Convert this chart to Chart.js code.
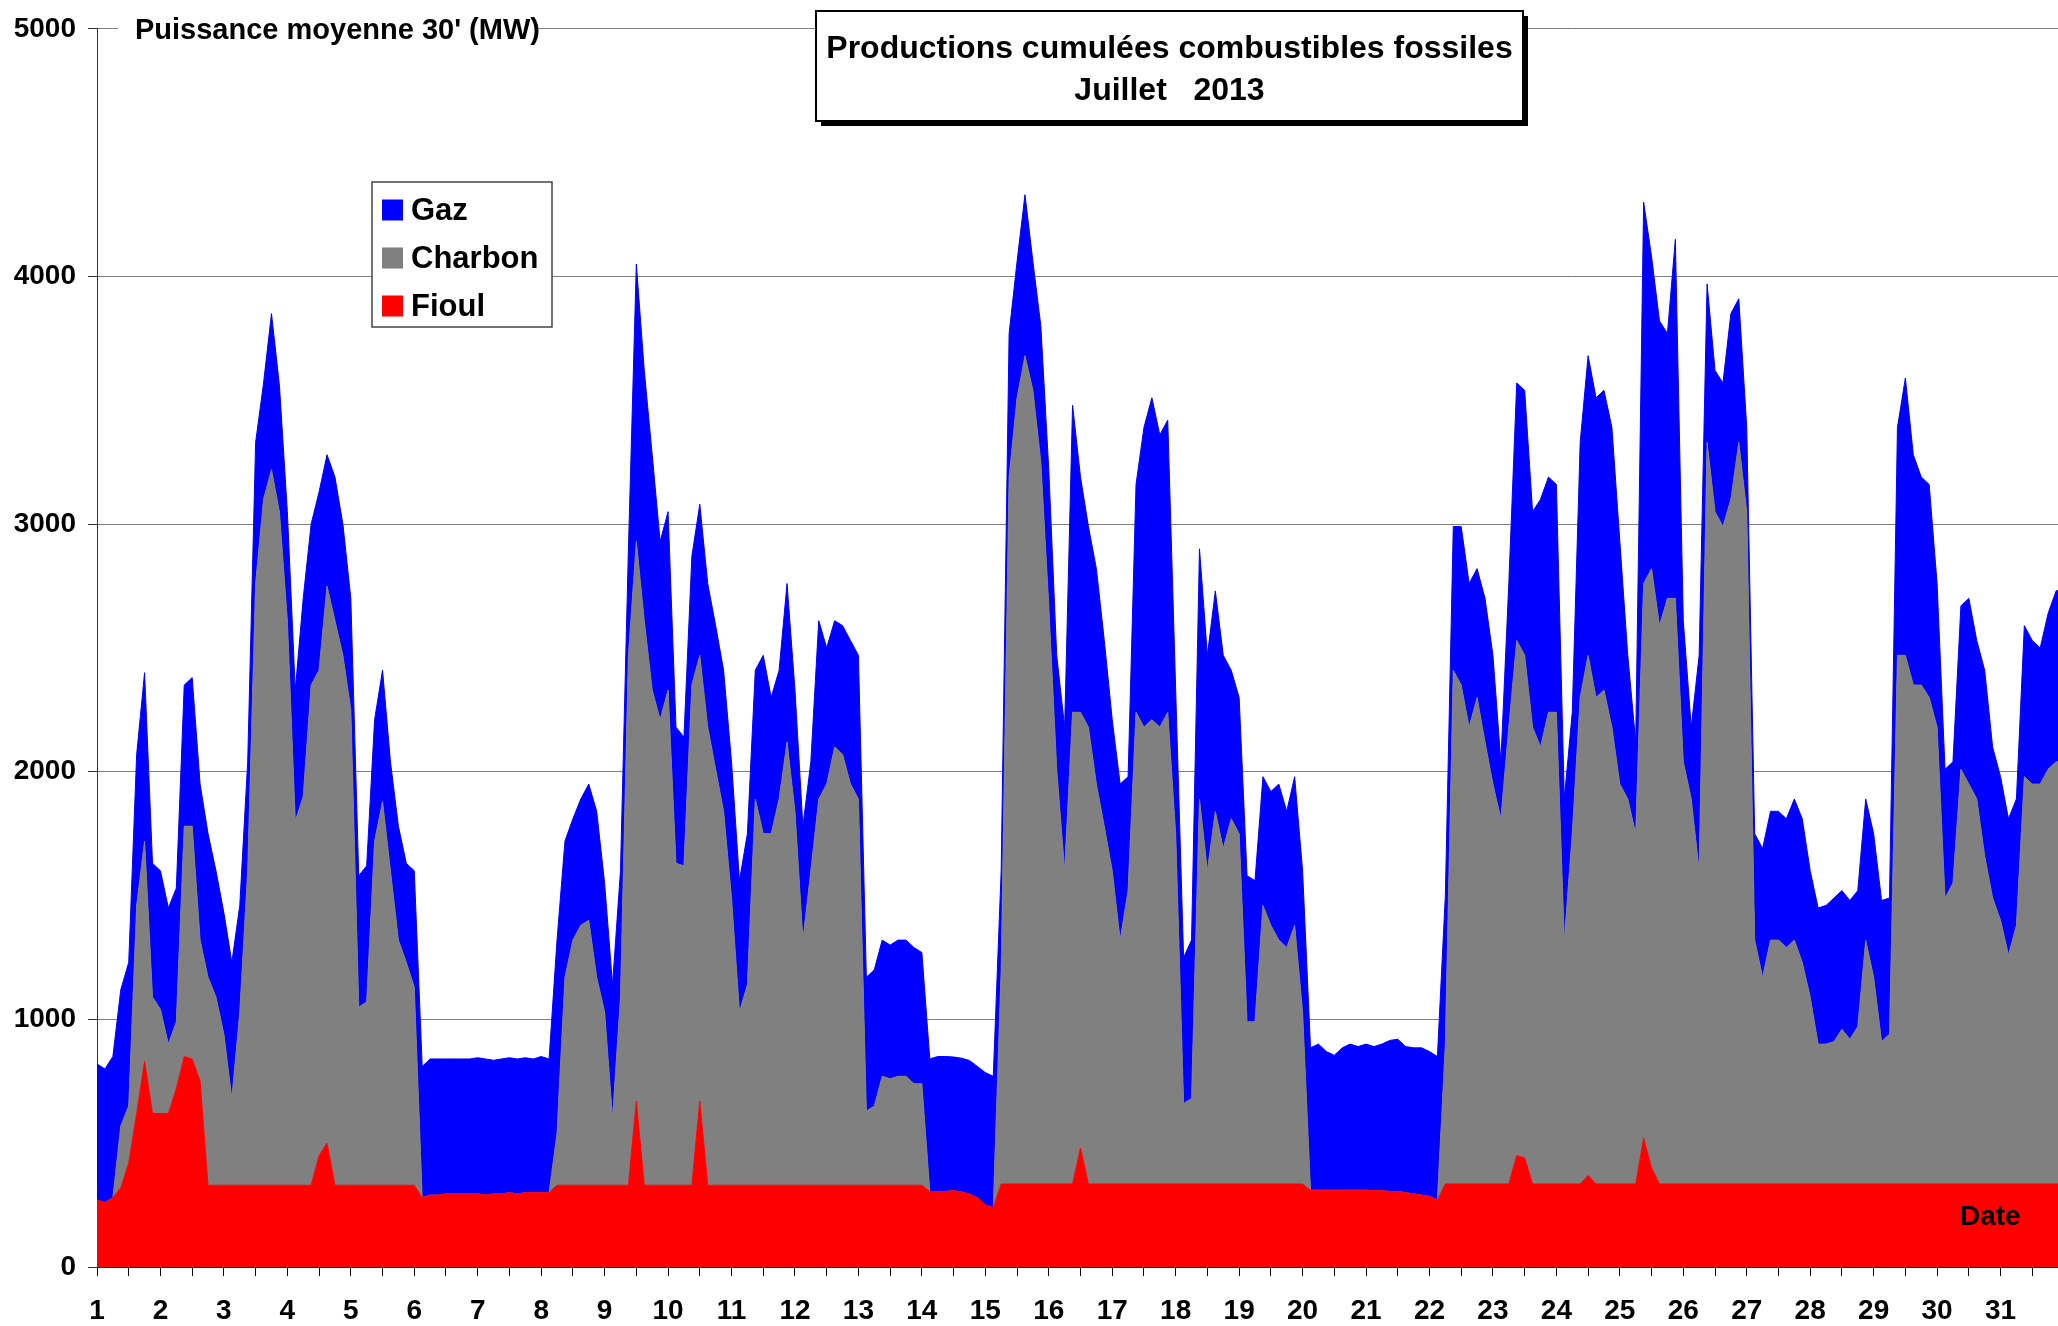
<!DOCTYPE html>
<html lang="fr">
<head>
<meta charset="utf-8">
<title>Productions cumulées combustibles fossiles - Juillet 2013</title>
<script src="https://cdn.jsdelivr.net/npm/chart.js@4.4.1/dist/chart.umd.min.js"></script>
<style>
  html, body { margin: 0; padding: 0; background: #fff; overflow: hidden; }
  #wrap { width: 2064px; height: 1326px; }
</style>
</head>
<body>
<div id="wrap"><canvas id="chart" width="2064" height="1326"></canvas></div>
<script>
// Jours du mois (étiquettes de l'axe) et heures échantillonnées dans chaque jour
const jours = [1, 2, 3, 4, 5, 6, 7, 8, 9, 10, 11, 12, 13, 14, 15, 16,
               17, 18, 19, 20, 21, 22, 23, 24, 25, 26, 27, 28, 29, 30, 31];
const heures = [0, 3, 6, 9, 12, 15, 18, 21];
const paliersMW = [0, 1000, 2000, 3000, 4000, 5000];

// Puissance moyenne (MW), un point toutes les 3 h, du 1er à 0h jusqu'au 1er août 0h
const fioul = [
  270, 260, 280, 320, 420, 620, 830, 620,   // 1
  620, 620, 720, 850, 840, 750, 330, 330,   // 2
  330, 330, 330, 330, 330, 330, 330, 330,   // 3
  330, 330, 330, 330, 450, 500, 330, 330,   // 4
  330, 330, 330, 330, 330, 330, 330, 330,   // 5
  330, 280, 290, 290, 295, 295, 295, 295,   // 6
  295, 290, 295, 295, 300, 295, 300, 300,   // 7
  300, 300, 330, 330, 330, 330, 330, 330,   // 8
  330, 330, 330, 330, 670, 330, 330, 330,   // 9
  330, 330, 330, 330, 670, 330, 330, 330,   // 10
  330, 330, 330, 330, 330, 330, 330, 330,   // 11
  330, 330, 330, 330, 330, 330, 330, 330,   // 12
  330, 330, 330, 330, 330, 330, 330, 330,   // 13
  330, 305, 305, 305, 308, 303, 294, 280,   // 14
  250, 240, 335, 335, 335, 335, 335, 335,   // 15
  335, 335, 335, 335, 480, 335, 335, 335,   // 16
  335, 335, 335, 335, 335, 335, 335, 335,   // 17
  335, 335, 335, 335, 335, 335, 335, 335,   // 18
  335, 335, 335, 335, 335, 335, 335, 335,   // 19
  335, 310, 310, 310, 310, 310, 310, 310,   // 20
  310, 308, 308, 305, 305, 300, 295, 290,   // 21
  285, 270, 335, 335, 335, 335, 335, 335,   // 22
  335, 335, 335, 450, 440, 335, 335, 335,   // 23
  335, 335, 335, 335, 370, 335, 335, 335,   // 24
  335, 335, 335, 520, 400, 335, 335, 335,   // 25
  335, 335, 335, 335, 335, 335, 335, 335,   // 26
  335, 335, 335, 335, 335, 335, 335, 335,   // 27
  335, 335, 335, 335, 335, 335, 335, 335,   // 28
  335, 335, 335, 335, 335, 335, 335, 335,   // 29
  335, 335, 335, 335, 335, 335, 335, 335,   // 30
  335, 335, 335, 335, 335, 335, 335, 335,   // 31
  335
];

const charbon = [
  0, 0, 0, 250, 230, 840, 890, 470,             // 1
  420, 280, 270, 930, 940, 570, 840, 760,       // 2
  610, 350, 700, 1270, 2430, 2770, 2890, 2720,  // 3
  2280, 1470, 1570, 2020, 1960, 2250, 2280, 2140, // 4
  1920, 720, 740, 1390, 1550, 1270, 990, 900,   // 5
  800, 0, 0, 0, 0, 0, 0, 0,                     // 6
  0, 0, 0, 0, 0, 0, 0, 0,                       // 7
  0, 0, 210, 840, 990, 1050, 1070, 840,         // 8
  700, 270, 760, 2140, 2260, 2280, 2000, 1880,  // 9
  2000, 1300, 1290, 2020, 1800, 1850, 1680, 1510, // 10
  1160, 700, 810, 1560, 1420, 1420, 1560, 1790, // 11
  1510, 990, 1270, 1560, 1620, 1770, 1740, 1620, // 12
  1560, 300, 320, 440, 430, 440, 440, 410,      // 13
  410, 0, 0, 0, 0, 0, 0, 0,                     // 14
  0, 0, 865, 2855, 3175, 3345, 3205, 2915,      // 15
  2335, 1675, 1265, 1905, 1760, 1845, 1615, 1445, // 16
  1265, 985, 1185, 1905, 1845, 1875, 1845, 1905, // 17
  1415, 325, 345, 1555, 1265, 1505, 1355, 1475, // 18
  1415, 655, 655, 1125, 1045, 985, 955, 1045,   // 19
  695, 0, 0, 0, 0, 0, 0, 0,                     // 20
  0, 0, 0, 0, 0, 0, 0, 0,                       // 21
  0, 0, 565, 2075, 2015, 1845, 1965, 1785,      // 22
  1615, 1475, 1845, 2080, 2030, 1845, 1765, 1905, // 23
  1905, 985, 1415, 1965, 2100, 1965, 1995, 1845, // 24
  1615, 1555, 1415, 2240, 2420, 2255, 2365, 2365, // 25
  1705, 1555, 1265, 2995, 2715, 2655, 2765, 2995, // 26
  2715, 985, 835, 985, 985, 955, 985, 895,      // 27
  755, 565, 565, 575, 625, 585, 635, 985,       // 28
  835, 575, 605, 2135, 2135, 2015, 2015, 1965,  // 29
  1845, 1155, 1215, 1675, 1615, 1555, 1325, 1155, // 30
  1065, 925, 1045, 1645, 1615, 1615, 1675, 1705, // 31
  1705
];

const gaz = [
  550, 540, 570, 550, 580, 610, 680, 540,       // 1
  560, 550, 540, 570, 600, 630, 580, 510,       // 2
  490, 550, 430, 440, 570, 470, 630, 510,       // 3
  440, 530, 800, 650, 720, 530, 580, 530,       // 4
  450, 530, 550, 490, 530, 440, 460, 400,       // 5
  470, 530, 550, 550, 545, 545, 545, 545,       // 6
  550, 550, 540, 545, 545, 545, 545, 540,       // 7
  550, 540, 780, 550, 490, 510, 550, 670,       // 8
  520, 540, 510, 430, 1120, 1010, 950, 720,     // 9
  720, 550, 520, 520, 610, 580, 580, 570,       // 10
  550, 530, 610, 520, 720, 550, 520, 640,       // 11
  490, 460, 440, 720, 550, 510, 520, 580,       // 12
  580, 540, 550, 550, 540, 550, 550, 550,       // 13
  530, 535, 545, 545, 540, 540, 540, 530,       // 14
  535, 530, 400, 580, 550, 650, 520, 550,       // 15
  550, 460, 580, 1240, 950, 810, 870, 750,      // 16
  610, 630, 460, 920, 1210, 1300, 1180, 1180,   // 17
  580, 590, 640, 1010, 870, 890, 780, 600,      // 18
  550, 590, 570, 520, 540, 630, 550, 600,       // 19
  570, 575, 590, 560, 545, 575, 590, 580,       // 20
  590, 582, 592, 610, 615, 590, 590, 595,       // 21
  585, 580, 600, 580, 640, 580, 520, 580,       // 22
  520, 230, 580, 1040, 1070, 870, 1000, 950,    // 23
  920, 570, 490, 1030, 1210, 1210, 1210, 1210,  // 24
  980, 580, 370, 1540, 1260, 1230, 1070, 1450,  // 25
  570, 290, 870, 640, 570, 580, 750, 580,       // 26
  340, 430, 520, 520, 520, 520, 570, 580,       // 27
  510, 550, 560, 580, 560, 560, 550, 570,       // 28
  580, 570, 550, 920, 1120, 930, 840, 860,      // 29
  580, 520, 490, 660, 750, 640, 750, 610,       // 30
  580, 550, 510, 610, 580, 550, 630, 690,       // 31
  700
];

const POLICE = '"Liberation Sans", Arial, sans-serif';

// instants en jours décimaux sur l'axe linéaire
const instants = [];
jours.forEach(j => heures.forEach(h => instants.push(j + h / 24)));
instants.push(32);

function serie(label, valeurs, couleur, fill) {
    return {
        label: label,
        data: valeurs.map((v, i) => ({ x: instants[i], y: v })),
        backgroundColor: couleur,
        borderColor: couleur,
        borderWidth: 1,
        pointRadius: 0,
        tension: 0,
        fill: fill
    };
}

// Cadre du titre, légende, libellés libres
const habillage = {
    id: 'habillage',
    afterDraw(chart) {
        const ctx = chart.ctx;
        ctx.save();

        // libellé de l'axe Y sur fond blanc
        ctx.fillStyle = '#fff';
        ctx.fillRect(118, 8, 420, 34);
        ctx.fillStyle = '#000';
        ctx.font = 'bold 29px ' + POLICE;
        ctx.textBaseline = 'middle';
        ctx.textAlign = 'left';
        ctx.fillText("Puissance moyenne 30' (MW)", 135, 31);

        // cadre du titre avec ombre
        const bx = 816, by = 11, bw = 707, bh = 110;
        ctx.fillStyle = '#000';
        ctx.fillRect(bx + 5, by + 5, bw, bh);
        ctx.fillStyle = '#fff';
        ctx.fillRect(bx, by, bw, bh);
        ctx.strokeStyle = '#000';
        ctx.lineWidth = 2;
        ctx.strokeRect(bx, by, bw, bh);
        ctx.fillStyle = '#000';
        ctx.font = 'bold 32px ' + POLICE;
        ctx.textAlign = 'center';
        ctx.fillText('Productions cumulées combustibles fossiles', bx + bw / 2, 49);
        ctx.fillText('Juillet   2013', bx + bw / 2, 91);

        // légende
        ctx.fillStyle = '#fff';
        ctx.fillRect(372, 182, 180, 145);
        ctx.strokeStyle = '#444';
        ctx.lineWidth = 1.5;
        ctx.strokeRect(372, 182, 180, 145);
        const items = [chart.data.datasets[2], chart.data.datasets[1], chart.data.datasets[0]];
        ctx.font = 'bold 31px ' + POLICE;
        ctx.textAlign = 'left';
        items.forEach((ds, i) => {
            const cy = 210 + i * 48;
            ctx.fillStyle = ds.backgroundColor;
            ctx.fillRect(382, cy - 10.5, 21, 21);
            ctx.fillStyle = '#000';
            ctx.fillText(ds.label, 411, cy + 1);
        });

        // libellé "Date"
        ctx.font = 'bold 28px ' + POLICE;
        ctx.fillText('Date', 1960, 1217);

        ctx.restore();
    }
};

new Chart(document.getElementById('chart'), {
    type: 'line',
    data: {
        datasets: [
            serie('Fioul', fioul, '#FF0000', 'origin'),
            serie('Charbon', charbon, '#808080', '-1'),
            serie('Gaz', gaz, '#0000FF', '-1')
        ]
    },
    options: {
        responsive: false,
        animation: false,
        layout: { padding: { top: 21, left: 0, right: 0, bottom: 0 } },
        plugins: {
            legend: { display: false },
            title: { display: false },
            tooltip: { enabled: false }
        },
        scales: {
            x: {
                type: 'linear',
                min: 1,
                max: 32,
                ticks: {
                    stepSize: 0.5,
                    autoSkip: false,
                    maxRotation: 0,
                    padding: 18,
                    color: '#000',
                    font: { family: POLICE, size: 28, weight: 'bold' },
                    callback: v => jours.includes(v) ? String(v) : ''
                },
                grid: { drawOnChartArea: false, drawTicks: true, tickLength: 9, color: '#000' },
                border: { color: '#000', width: 1 },
                afterFit(scale) {
                    scale.height = 59;
                    scale.paddingLeft = 0;
                    scale.paddingRight = 0;
                }
            },
            y: {
                stacked: true,
                min: 0,
                max: 5000,
                afterBuildTicks(scale) { scale.ticks = paliersMW.map(v => ({ value: v })); },
                ticks: {
                    padding: 12,
                    color: '#000',
                    font: { family: POLICE, size: 28, weight: 'bold' },
                    callback: v => String(v)
                },
                grid: { color: '#808080', lineWidth: 1, tickLength: 9, tickColor: '#333' },
                border: { color: '#333', width: 1 },
                afterFit(scale) { scale.width = 97; }
            }
        }
    },
    plugins: [habillage]
});
</script>
</body>
</html>
